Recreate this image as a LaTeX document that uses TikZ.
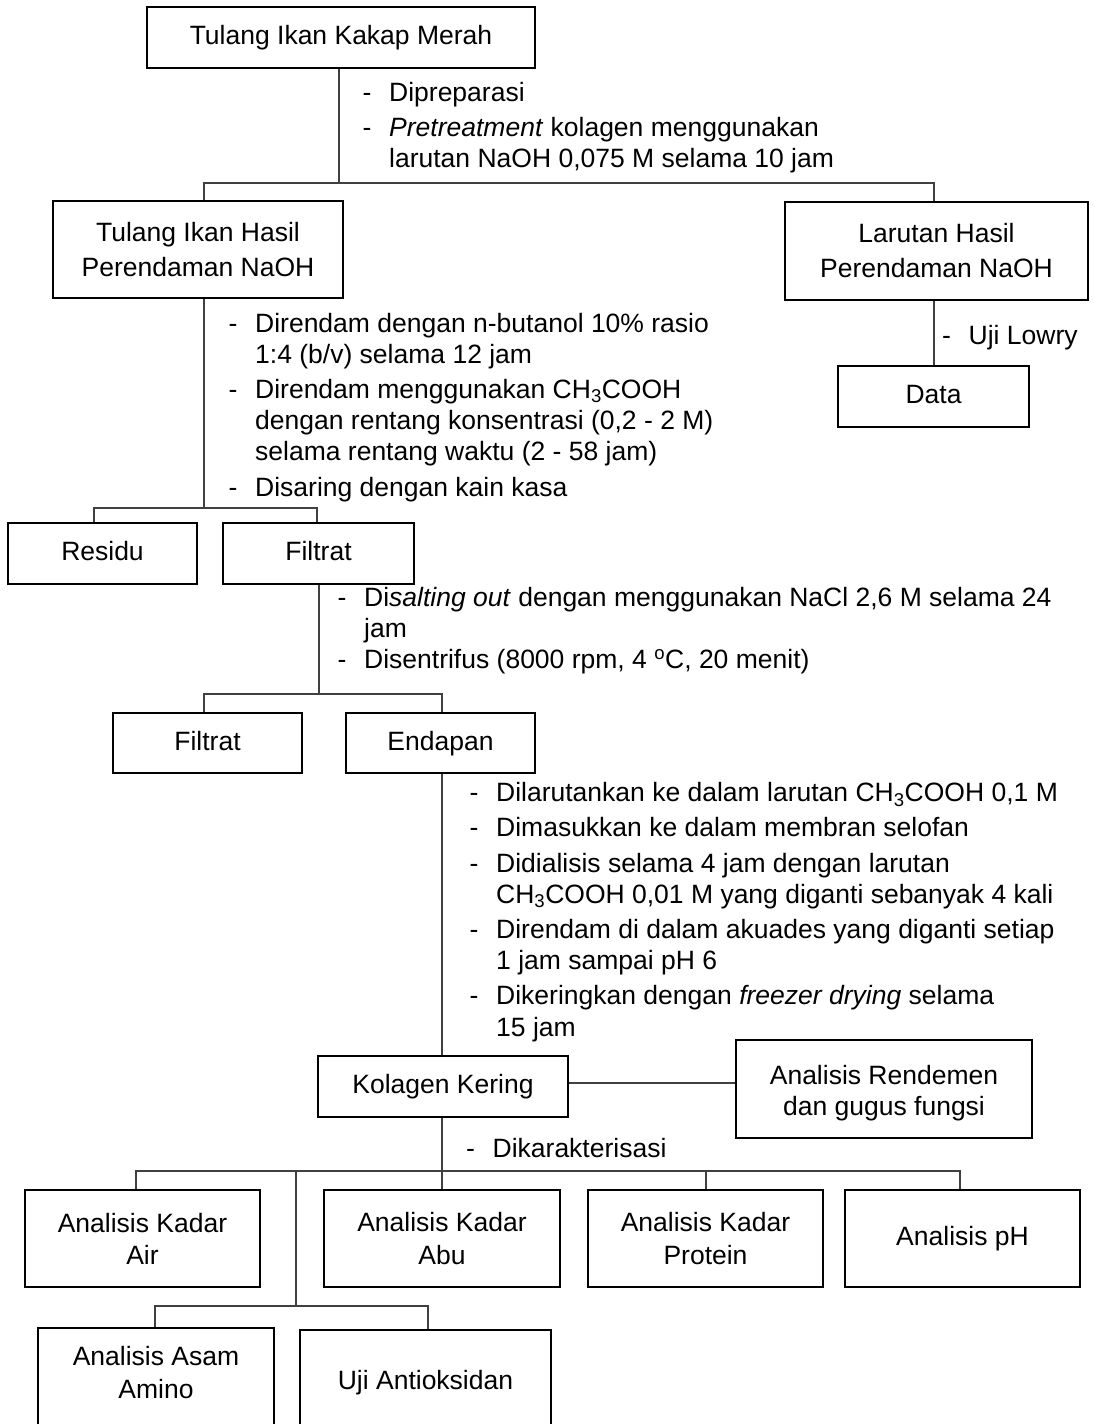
\documentclass[tikz,border=0pt]{standalone}
\usepackage{fontspec}
\setmainfont{Liberation Sans}
\usepackage{tikz}
\usetikzlibrary{calc, positioning}
\definecolor{GarisAbu}{RGB}{64, 64, 64}

\newcommand{\urutan}[1]{\begin{tabular}{@{}p{26.5pt}@{}l@{}}#1\end{tabular}}

\tikzset{
    kotak/.style={draw=black, line width=2.2pt, align=center, inner sep=2pt},
    satu/.style={text height=16pt, text depth=2pt},
    garis/.style={draw=GarisAbu, line width=1.3pt},
    tahap/.style={anchor=north west, inner sep=0pt}
}

\begin{document}
\begin{tikzpicture}[x=1pt, y=-1pt, font=\fontsize{26.5}{31.2}\selectfont]
    \useasboundingbox (0,0) rectangle (1093,1424);
    \clip (0,0) rectangle (1093,1424);

    % Bahan awal dan pretreatment
    \node[kotak, satu, minimum width=388, minimum height=61] (atas) at (341,37.5) {Tulang Ikan Kakap Merah};
    \node[tahap] (t1) at (362.5,79.3) {\urutan{- & Dipreparasi\\[4pt]
        - & \textit{Pretreatment} kolagen menggunakan\\
          & larutan NaOH 0,075 M selama 10 jam}};
    \node[kotak, minimum width=290, minimum height=97] (hasil) at (198,249.5) {Tulang Ikan Hasil\\[3.8pt]Perendaman NaOH};
    \node[kotak, minimum width=303, minimum height=98] (larutan) at (936.5,251) {Larutan Hasil\\[3.8pt]Perendaman NaOH};
    \coordinate (k1) at (339,183);
    \coordinate (k1a) at (204,183);
    \coordinate (k1b) at (934,183);
    \draw[garis] (atas.south -| k1) -- (k1);
    \draw[garis] (hasil.north -| k1a) |- (k1b) -- (larutan.north -| k1b);

    % Uji Lowry
    \node[kotak, satu, minimum width=191, minimum height=61] (data) at (933.5,396.5) {Data};
    \node[tahap] (t2) at (942,322.6) {\urutan{- & Uji Lowry}};
    \draw[garis] (larutan.south -| k1b) -- (data.north -| k1b);

    % Perendaman n-butanol dan CH3COOH
    \node[tahap] (t3) at (228.5,310) {\urutan{- & Direndam dengan n-butanol 10\% rasio\\
          & 1:4 (b/v) selama 12 jam\\[4pt]
        - & Direndam menggunakan CH\textsubscript{3}COOH\\
          & dengan rentang konsentrasi (0,2 - 2 M)\\
          & selama rentang waktu (2 - 58 jam)\\[4pt]
        - & Disaring dengan kain kasa}};
    \node[kotak, satu, minimum width=189, minimum height=61] (residu) at (102.5,553.5) {Residu};
    \node[kotak, satu, minimum width=191, minimum height=61] (filtrat) at (318.5,553.5) {Filtrat};
    \coordinate (k2) at (204,508);
    \coordinate (k2a) at (94,508);
    \coordinate (k2b) at (317,508);
    \draw[garis] (hasil.south -| k2) -- (k2);
    \draw[garis] (residu.north -| k2a) |- (k2b) -- (filtrat.north -| k2b);

    % Salting out
    \node[tahap] (t4) at (337.5,584.3) {\urutan{- & Di\textit{salting out} dengan menggunakan NaCl 2,6 M selama 24\\
          & jam\\
        - & Disentrifus (8000 rpm, 4 \textsuperscript{o}C, 20 menit)}};
    \node[kotak, satu, minimum width=189, minimum height=60] (filtratB) at (207.5,743) {Filtrat};
    \node[kotak, satu, minimum width=189, minimum height=60] (endapan) at (440.5,743) {Endapan};
    \coordinate (k3) at (319,694);
    \coordinate (k3a) at (204,694);
    \coordinate (k3b) at (442,694);
    \draw[garis] (filtrat.south -| k3) -- (k3);
    \draw[garis] (filtratB.north -| k3a) |- (k3b) -- (endapan.north -| k3b);

    % Dialisis dan pengeringan
    \node[tahap] (t5) at (469.5,779.7) {\urutan{- & Dilarutankan ke dalam larutan CH\textsubscript{3}COOH 0,1 M\\[4pt]
        - & Dimasukkan ke dalam membran selofan\\[4pt]
        - & Didialisis selama 4 jam dengan larutan\\
          & CH\textsubscript{3}COOH 0,01 M yang diganti sebanyak 4 kali\\[4pt]
        - & Direndam di dalam akuades yang diganti setiap\\
          & 1 jam sampai pH 6\\[4pt]
        - & Dikeringkan dengan \textit{freezer drying} selama\\
          & 15 jam}};
    \node[kotak, satu, minimum width=250, minimum height=61] (kolagen) at (443,1086.5) {Kolagen Kering};
    \node[kotak, minimum width=296, minimum height=98] (rendemen) at (884,1089) {\rule{0pt}{27pt}Analisis Rendemen\\dan gugus fungsi};
    \coordinate (k4) at (650,1083);
    \draw[garis] (endapan.south -| k3b) -- (kolagen.north -| k3b);
    \draw[garis] (kolagen.east |- k4) -- (rendemen.west |- k4);

    % Karakterisasi
    \node[tahap] (t6) at (466,1135.6) {\urutan{- & Dikarakterisasi}};
    \node[kotak, minimum width=235, minimum height=97] (air) at (142.5,1238.5) {Analisis Kadar\\[1pt]Air};
    \node[kotak, minimum width=236, minimum height=97] (abu) at (442,1238.5) {Analisis Kadar\\[1pt]Abu};
    \node[kotak, minimum width=235, minimum height=97] (protein) at (705.5,1238.5) {Analisis Kadar\\[1pt]Protein};
    \node[kotak, satu, minimum width=235, minimum height=97] (ph) at (962.5,1238.5) {Analisis pH};
    \coordinate (k5) at (442,1171);
    \coordinate (k5a) at (136,1171);
    \coordinate (k5b) at (960,1171);
    \coordinate (k5c) at (296,1171);
    \coordinate (k5d) at (706,1171);
    \draw[garis] (kolagen.south -| k5) -- (abu.north -| k5);
    \draw[garis] (air.north -| k5a) |- (k5b) -- (ph.north -| k5b);
    \draw[garis] (k5d) -- (protein.north -| k5d);

    % Asam amino dan antioksidan
    \node[kotak, minimum width=236, minimum height=98] (amino) at (156,1377) {Analisis Asam\\[2pt]Amino\rule[-10pt]{0pt}{10pt}};
    \node[kotak, minimum width=251, minimum height=98] (antiok) at (425.5,1379) {\rule{0pt}{27pt}Uji Antioksidan};
    \coordinate (k6) at (296,1306);
    \coordinate (k6a) at (155,1306);
    \coordinate (k6b) at (428,1306);
    \draw[garis] (k5c) -- (k6);
    \draw[garis] (amino.north -| k6a) |- (k6b) -- (antiok.north -| k6b);
\end{tikzpicture}
\end{document}
